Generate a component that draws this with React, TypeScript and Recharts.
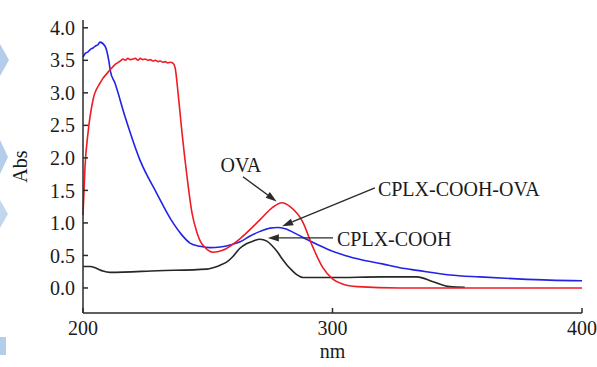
import React from "react";
import { Label, Line, LineChart, ReferenceLine, XAxis, YAxis } from "recharts";

// wavelengths (nm) and absorbance
const ovaNm = [
  200, 200.8, 202, 204, 206.8, 210.8, 213, 215, 216, 217, 218, 219, 220, 221, 222, 223, 224, 225,
  226, 227, 228, 229, 230, 231, 232, 233, 234, 235, 236, 236.9, 238.1, 239.7, 241.7, 243.7, 245.7,
  247, 249, 252, 256, 263, 271, 276, 279.8, 283, 288, 292, 296, 300, 304, 310, 327, 360, 400
];
const ovaAbs = [
  1.12, 1.86, 2.38, 2.89, 3.15, 3.35, 3.44, 3.49, 3.52, 3.5, 3.53, 3.51, 3.52, 3.53, 3.5, 3.53, 3.51, 3.52,
  3.5, 3.51, 3.49, 3.5, 3.48, 3.49, 3.47, 3.48, 3.46, 3.47, 3.46, 3.39, 3.0, 2.38, 1.71, 1.15, 0.85,
  0.72, 0.62, 0.55, 0.58, 0.76, 1.05, 1.24, 1.31, 1.25, 1.02, 0.64, 0.32, 0.14, 0.06, 0.02, 0.0, 0.0, 0.0
];

const mixNm = [
  200, 201, 202, 203, 204, 205, 206, 206.8, 208.8, 210.4, 211, 212.8, 216.8, 222.8, 229.5, 236.1,
  239.5, 242.9, 246.9, 251, 255, 259, 263, 267, 271, 275, 278, 281, 286, 290, 295, 299, 305, 312,
  320, 327, 334, 347, 359, 374, 387, 400
];
const mixAbs = [
  3.55, 3.61, 3.63, 3.67, 3.69, 3.72, 3.74, 3.78, 3.72, 3.48, 3.33, 3.15, 2.64, 1.97, 1.46, 1.0,
  0.82, 0.69, 0.64, 0.62, 0.63, 0.66, 0.71, 0.8, 0.87, 0.92, 0.93, 0.91, 0.82, 0.74, 0.65, 0.58, 0.5, 0.43,
  0.37, 0.31, 0.27, 0.2, 0.17, 0.14, 0.12, 0.11
];

const cooNm = [
  200, 202.8, 205.5, 208, 210.8, 230, 249.6, 252.1, 255, 257.7, 260, 262.9, 265.5, 268.1, 270.9,
  273.7, 275.8, 277.8, 279.8, 281.8, 283.8, 285.8, 288.2, 300, 320, 333.9, 340, 347, 353
];
const cooAbs = [
  0.33, 0.33, 0.3, 0.26, 0.24, 0.265, 0.29, 0.31, 0.35, 0.4, 0.48, 0.61, 0.68, 0.72, 0.75,
  0.72, 0.65, 0.56, 0.45, 0.35, 0.27, 0.2, 0.16, 0.16, 0.17, 0.17, 0.1, 0.02, 0.01
];

const xTicks = [200, 300, 400];
const yTicks = [0, 0.5, 1, 1.5, 2, 2.5, 3, 3.5, 4];

const toRows = (nm: number[], abs: number[]) => nm.map((x, i) => ({ nm: x, abs: abs[i] }));
const ovaData = toRows(ovaNm, ovaAbs);
const mixData = toRows(mixNm, mixAbs);
const cooData = toRows(cooNm, cooAbs);

const FONT = '"Liberation Serif", "Times New Roman", serif';
const INK = "#2b2b2b";

// line with a filled arrowhead at the second point, text placed near the first point
function arrowShape(text: string, dx: number, dy: number, anchor: "start" | "middle") {
  return (props: any) => {
    const { x1, y1, x2, y2 } = props;
    const ang = Math.atan2(y2 - y1, x2 - x1);
    const len = 11;
    const half = 3.6;
    const bx = x2 - len * Math.cos(ang);
    const by = y2 - len * Math.sin(ang);
    const px = -Math.sin(ang) * half;
    const py = Math.cos(ang) * half;
    return (
      <g>
        <line x1={x1} y1={y1} x2={bx} y2={by} stroke={INK} strokeWidth={1.4} />
        <polygon points={`${x2},${y2} ${bx + px},${by + py} ${bx - px},${by - py}`} fill={INK} />
        <text x={x1 + dx} y={y1 + dy} textAnchor={anchor} dominantBaseline="central" fontFamily={FONT} fontSize={20} fill="#1a1a1a">
          {text}
        </text>
      </g>
    );
  };
}

// faint page marks along the left edge of the scanned figure
function EdgeMarks() {
  return (
    <svg width={14} height={367} style={{ position: "absolute", left: 0, top: 0 }}>
      <polygon points="0,44 9,60 0,76" fill="#b3cdea" />
      <polygon points="0,140 8,157 0,174" fill="#b3cdea" />
      <polygon points="0,200 8,214 0,228" fill="#c2d7ee" />
      <rect x={0} y={337} width={6} height={18} fill="#b3cdea" />
    </svg>
  );
}

export default function App() {
  return (
    <div style={{ position: "absolute", left: 0, top: 0, width: 597, height: 367, background: "#fff" }}>
      <EdgeMarks />
      <div style={{ position: "absolute", left: 0, top: 0 }}>
        <LineChart width={597} height={367} margin={{ top: 20, right: 15, bottom: 24, left: 23 }}>
          <XAxis
            dataKey="nm"
            type="number"
            domain={[200, 400]}
            ticks={xTicks}
            allowDuplicatedCategory={false}
            height={30}
            stroke={INK}
            strokeWidth={1.5}
            tickSize={-5}
            tickMargin={13}
            tick={{ fill: "#1a1a1a", fontSize: 20, fontFamily: FONT }}
          >
            <Label
              content={(p: any) => (
                <text x={p.viewBox.x + p.viewBox.width / 2} y={p.viewBox.y + 38} textAnchor="middle" dominantBaseline="central" fontFamily={FONT} fontSize={20} fill="#1a1a1a">
                  nm
                </text>
              )}
            />
          </XAxis>
          <YAxis
            type="number"
            domain={[-0.385, 4.12]}
            ticks={yTicks}
            tickFormatter={(v: number) => v.toFixed(1)}
            width={60}
            stroke={INK}
            strokeWidth={1.5}
            tickSize={-5}
            tickMargin={13}
            tick={{ fill: "#1a1a1a", fontSize: 20, fontFamily: FONT }}
          >
            <Label
              content={(p: any) => (
                <text
                  x={p.viewBox.x - 3}
                  y={p.viewBox.y + p.viewBox.height / 2}
                  transform={`rotate(-90 ${p.viewBox.x - 3} ${p.viewBox.y + p.viewBox.height / 2})`}
                  textAnchor="middle"
                  dominantBaseline="central"
                  fontFamily={FONT}
                  fontSize={20}
                  fill="#1a1a1a"
                >
                  Abs
                </text>
              )}
            />
          </YAxis>
          <Line data={cooData} dataKey="abs" type="monotone" stroke="#262626" strokeWidth={1.6} dot={false} isAnimationActive={false} />
          <Line data={mixData} dataKey="abs" type="monotone" stroke="#2323e6" strokeWidth={1.6} dot={false} isAnimationActive={false} />
          <Line data={ovaData} dataKey="abs" type="monotone" stroke="#ee1c25" strokeWidth={1.6} dot={false} isAnimationActive={false} />
          <ReferenceLine segment={[{ x: 264.1, y: 1.71 }, { x: 277.6, y: 1.33 }]} shape={arrowShape("OVA", -2, -12, "middle")} />
          <ReferenceLine segment={[{ x: 317, y: 1.54 }, { x: 279.8, y: 0.95 }]} shape={arrowShape("CPLX-COOH-OVA", 3, 1, "start")} />
          <ReferenceLine segment={[{ x: 300.2, y: 0.77 }, { x: 274.1, y: 0.77 }]} shape={arrowShape("CPLX-COOH", 4, 1, "start")} />
        </LineChart>
      </div>
    </div>
  );
}
